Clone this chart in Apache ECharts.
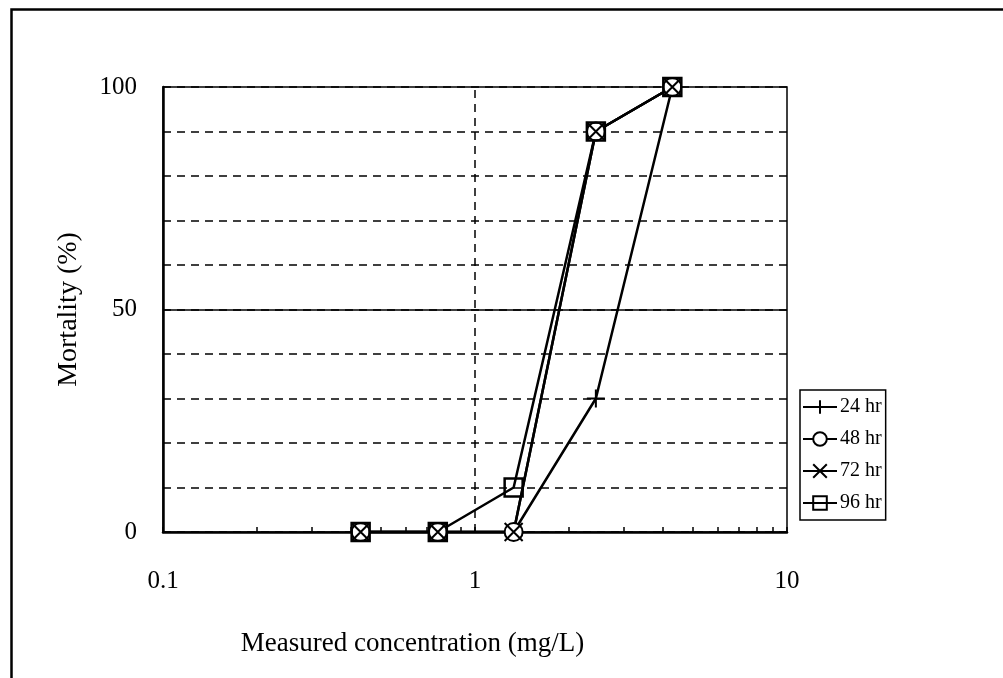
<!DOCTYPE html>
<html><head><meta charset="utf-8">
<script src="https://cdn.jsdelivr.net/npm/echarts@6/dist/echarts.min.js"></script>
<style>html,body{margin:0;padding:0;background:#fff}#c{width:1003px;height:678px}</style>
</head><body><div id="c"></div>
<script>
const concentrations = [0.43, 0.76, 1.33, 2.44, 4.29];
const mortality24 = [0, 0, 0, 30, 100];
const mortality48 = [0, 0, 0, 90, 100];
const mortality72 = [0, 0, 0, 90, 100];
const mortality96 = [0, 0, 10, 90, 100];
const seriesNames = ['24 hr', '48 hr', '72 hr', '96 hr'];
const xTickLabels = [0.1, 1, 10];
const yTickLabels = [0, 50, 100];
const xMinorTicks = [0.1,0.2,0.3,0.4,0.5,0.6,0.7,0.8,0.9,1,2,3,4,5,6,7,8,9,10];

const FONT = '"Liberation Serif", "DejaVu Serif", serif';
const plusPath = 'path://M5,0L5,10M0,5L10,5';
const crossPath = 'path://M0,0L10,10M10,0L0,10';

function pairs(ys){ return concentrations.map((x,i)=>[x, ys[i]]); }

const chart = echarts.init(document.getElementById('c'));
const baseSeries = (name, ys, symbol, extra) => Object.assign({
  name, type: 'line', data: pairs(ys), symbol, symbolSize: 18,
  lineStyle: {color: '#000', width: 2.5},
  itemStyle: {color: '#fff', borderColor: '#000', borderWidth: 2},
  emphasis: {disabled: true}, animation: false, z: 5
}, extra || {});

chart.setOption({
  backgroundColor: '#fff',
  animation: false,
  graphic: [{
    type: 'rect', left: 9, top: 7, shape: {width: 1200, height: 900},
    style: {fill: 'none', stroke: '#000', lineWidth: 2.5}, silent: true
  }],
  grid: {left: 163, top: 87, right: 216, bottom: 146, show: true,
    borderColor: '#000', borderWidth: 1.5, backgroundColor: 'transparent'},
  xAxis: {
    type: 'log', logBase: 10, min: 0.1, max: 10,
    name: 'Measured concentration (mg/L)', nameLocation: 'middle', nameGap: 98,
    nameTextStyle: {fontFamily: FONT, fontSize: 27, color: '#000', padding: [0, 125, 0, 0]},
    axisLine: {show: true, lineStyle: {color: '#000', width: 2.5}},
    axisTick: {show: true, inside: true, length: 5, customValues: xMinorTicks, lineStyle: {color: '#000', width: 1.5}},
    axisLabel: {customValues: xTickLabels, margin: 37, fontFamily: FONT, fontSize: 25, color: '#000',
      formatter: v => String(+v.toPrecision(3))},
    splitLine: {show: false}
  },
  yAxis: {
    type: 'value', min: 0, max: 100, interval: 10,
    name: 'Mortality (%)', nameLocation: 'middle', nameGap: 80,
    nameTextStyle: {fontFamily: FONT, fontSize: 28, color: '#000'},
    axisLine: {show: true, lineStyle: {color: '#000', width: 2.5}},
    axisTick: {show: false},
    axisLabel: {margin: 26, fontFamily: FONT, fontSize: 25, color: '#000',
      formatter: v => yTickLabels.indexOf(v) >= 0 ? String(v) : ''},
    splitLine: {show: true, lineStyle: {color: '#000', width: 1.5, type: [8, 6]}}
  },
  legend: {
    orient: 'vertical', left: 800, top: 390,
    data: seriesNames,
    borderColor: '#000', borderWidth: 1.5, padding: [7, 4, 7, 2],
    itemGap: 12, itemWidth: 34, itemHeight: 17,
    textStyle: {fontFamily: FONT, fontSize: 20, color: '#000', padding: [0, 0, 0, -2]},
    selectedMode: false
  },
  series: [
    baseSeries(seriesNames[0], mortality24, plusPath, {
      itemStyle: {color: 'none', borderColor: '#000', borderWidth: 2},
      markLine: {silent: true, symbol: 'none', label: {show: false}, animation: false,
        data: [
          {xAxis: 1, lineStyle: {color: '#000', width: 1.5, type: [8, 6]}},
          {yAxis: 50, lineStyle: {color: '#000', width: 1.5, type: 'solid'}}
        ]}
    }),
    baseSeries(seriesNames[1], mortality48, 'circle'),
    baseSeries(seriesNames[2], mortality72, crossPath, {
      itemStyle: {color: 'none', borderColor: '#000', borderWidth: 2}
    }),
    baseSeries(seriesNames[3], mortality96, 'rect', {
      itemStyle: {color: 'none', borderColor: '#000', borderWidth: 2.5}
    })
  ]
});
</script></body></html>
